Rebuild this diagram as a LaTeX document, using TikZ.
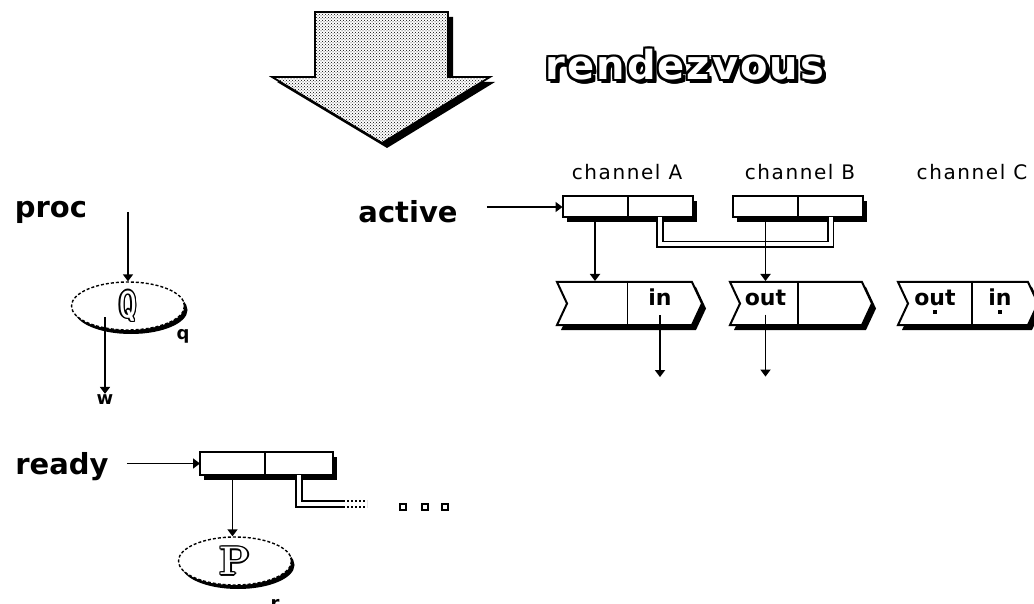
\documentclass[tikz,border=0pt]{standalone}
\usepackage{fontspec}
\usepackage{xcolor}
\usepackage{tikz}
\usetikzlibrary{arrows.meta}
\usetikzlibrary{positioning,calc,shadows,patterns}
\usetikzlibrary{shapes.symbols,shapes.geometric}
\newfontfamily\macfont{DejaVu Sans}
\newfontfamily\chanfont{DejaVu Sans}[LetterSpace=8]
\newcommand\kwfont{\macfont\bfseries\fontsize{29}{32}\selectfont}
\newcommand\cellfont{\macfont\bfseries\fontsize{22}{24}\selectfont}
\newcommand\varfont{\macfont\bfseries\fontsize{18}{20}\selectfont}
\newcommand\bannerfont{\macfont\bfseries\fontsize{40}{44}\selectfont\addfontfeature{LetterSpace=5}}
\newcommand\glyphfont{\sffamily\bfseries\fontsize{37}{40}\selectfont}
\newcommand\pglyphfont{\rmfamily\bfseries\fontsize{40}{44}\selectfont}
% white letters with a black rim: name, place, font, offsets (a macro), text
\newcommand\outlined[5]{%
  \foreach \ox/\oy [count=\n] in #4
    \node[inner sep=0pt,font=#3,text=black,xshift=\ox pt,yshift=\oy pt] (#1-\n) at (#2) {#5};
  \node[inner sep=0pt,font=#3,text=white] (#1) at (#2) {#5};
}
\newcommand\thinrim{-1.5/0,1.5/0,0/-1.5,0/1.5,-1/-1,1/1,-1/1,1/-1}
\newcommand\thickrim{-2/0,2/0,0/-2,0/2,-2/-2,2/2,-2/2,2/-2,3/-3,4/-4,4/-3,3/-4,4/-2,2/-4}
\tikzstyle{ptr}=[line width=1.8pt,-{Triangle[length=7pt,width=10pt]}]
\tikzstyle{dbl}=[line width=1.6pt,double=white,double distance=4pt]
\tikzstyle{macshadow}=[drop shadow={shadow xshift=4pt,shadow yshift=-5pt,fill=black,opacity=1}]
\tikzstyle{cell}=[draw,line width=2pt,fill=white,minimum width=65pt,minimum height=21pt,inner sep=0pt,outer sep=0pt,macshadow]
\tikzstyle{chan}=[signal,signal from=west,signal to=east,signal pointer angle=130,draw,line width=2pt,fill=white,minimum height=43pt,inner sep=0pt,macshadow]
\tikzstyle{pcb}=[ellipse,draw,line width=1.4pt,dash pattern=on 3pt off 2pt,fill=white,minimum width=113pt,minimum height=48pt,drop shadow={shadow xshift=3pt,shadow yshift=-4pt,fill=black,opacity=1}]
\tikzstyle{kw}=[font=\kwfont,inner sep=1pt]
\tikzstyle{chn}=[font=\chanfont\fontsize{20}{24}\selectfont,inner sep=1pt]
\tikzstyle{celltxt}=[font=\cellfont,inner sep=1pt]
\tikzstyle{var}=[font=\varfont,inner sep=1pt]
\tikzstyle{sqdot}=[draw,line width=1.5pt,fill=white,minimum size=6pt,inner sep=0pt]
\tikzstyle{dotmark}=[fill=black,minimum size=4pt,inner sep=0pt]
\tikzstyle{divider}=[line width=1.8pt]

\begin{document}
\begin{tikzpicture}[x=1pt,y=-1pt]
	\useasboundingbox (0,0) rectangle (1034,604);
	% the big arrow
	\fill (320,17) -- (453,17) -- (453,82) -- (495,82) -- (387,148) -- (277,82) -- (320,82) -- cycle;
	\draw[line width=1.8pt,preaction={fill=white},pattern=crosshatch dots]
	  (315,12) -- (448,12) -- (448,77) -- (490,77) -- (382,143) -- (272,77) -- (315,77) -- cycle;
	\coordinate (rdvpos) at (685,65);
	\outlined{rdv}{rdvpos}{\bannerfont}{\thickrim}{rendezvous}

	% channels
	\node[chn] (labA) at (627,172) {channel A};
	\node[chn] (labB) at (800,172) {channel B};
	\node[chn] (labC) at (972,172) {channel C};
	\node[cell] (aL) at (595,207) {};
	\node[cell,right=0pt of aL] (aR) {};
	\node[cell] (bL) at (765.5,207) {};
	\node[cell,right=0pt of bL] (bR) {};
	\node[kw] (active) at (408,212) {active};
	\draw[ptr,shorten <=28pt] (active.east |- aL.west) -- (aL.west);

	\node[chan,minimum width=145pt] (chA) at (629.5,303.5) {};
	\node[chan,minimum width=142pt] (chB) at (801,303.5) {};
	\node[chan,minimum width=140pt] (chC) at (968,303.5) {};
	\draw[divider] (aL.east |- chA.north) -- (aL.east |- chA.south);
	\draw[divider] (bL.east |- chB.north) -- (bL.east |- chB.south);
	\draw[divider] (labC |- chC.north) -- (labC |- chC.south);
	\node[celltxt] (inA) at ($(aR |- chA)+(0,-6)$) {in};
	\node[celltxt] (outB) at ($(bL |- chB)+(0,-6)$) {out};
	\node[celltxt] (outC) at (935,297.5) {out};
	\node[celltxt] (inC) at (1000,297.5) {in};
	\node[dotmark] (outCdot) at (935,312) {};
	\node[dotmark] (inCdot) at (1000,312) {};

	\draw[dbl] (aR) |- ($(bR.south)+(0,27)$) -- (bR);
	\draw[ptr] (aL) -- (aL |- chA.north);
	\draw[ptr] (bL) -- (bL |- chB.north);
	\coordinate (inAend) at ($(inA.south)+(0,70)$);
	\coordinate (outBend) at ($(outB.south)+(0,70)$);
	\draw[ptr,shorten <=8pt] (inA.south) -- (inAend);
	\draw[ptr,shorten <=8pt] (outB.south) -- (outBend);

	% proc
	\node[kw] (proc) at (51,212) {proc};
	\node[pcb] (Q) at (128,306) {};
	\outlined{Qglyph}{Q.center}{\glyphfont}{\thinrim}{\scalebox{.6}[1]{Q}}
	\node[var] (q) at (183,336) {q};
	\node[var] (w) at (105,400) {w};
	\draw[ptr] (proc.center -| Q.north) -- (Q.north);
	\draw[ptr] ($(Q.center -| w)+(0,11)$) -- (w.north);

	% ready
	\node[kw] (ready) at (62,467) {ready};
	\node[cell,minimum height=23pt] (rL) at (232.5,463.5) {};
	\node[cell,minimum height=23pt,minimum width=68pt,right=0pt of rL] (rR) {};
	\draw[ptr,shorten <=17pt] (ready.east |- rL.west) -- (rL.west);
	\node[pcb] (P) at (235,561) {};
	\outlined{Pglyph}{P.center}{\pglyphfont}{\thinrim}{P}
	\node[var] (r) at (275,604) {r};
	\draw[ptr] (rL) -- (rL |- P.north);
	\coordinate (rdbreak) at (343,504);
	\coordinate (rdend) at (367,504);
	\draw[dbl] (rR) |- (rdbreak);
	\draw[dbl,dash pattern=on 2pt off 2pt] (rdbreak) -- (rdend);
	\foreach \x [count=\k] in {403,425,445}
	  \node[sqdot] (more\k) at (\x,507) {};
\end{tikzpicture}
\end{document}
